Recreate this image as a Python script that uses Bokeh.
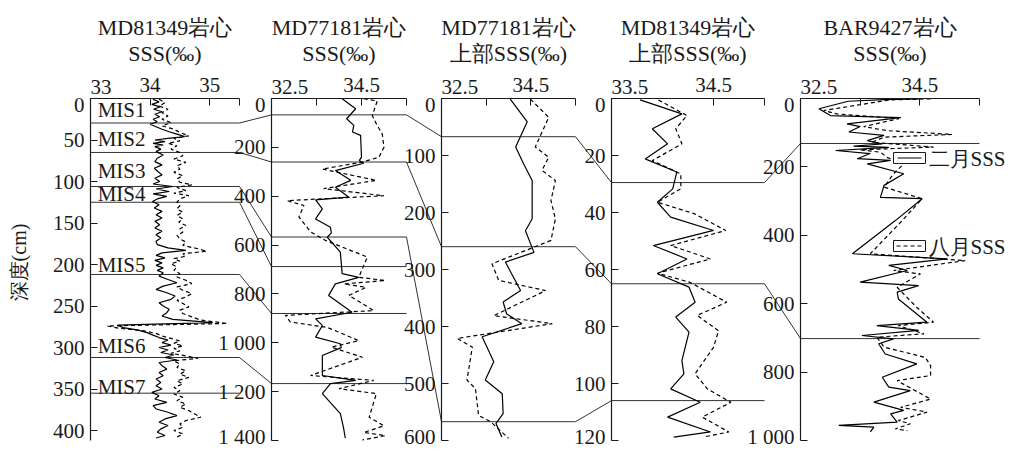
import math
from bokeh.plotting import figure
from bokeh.models import Range1d, LinearAxis, FixedTicker
from bokeh.core.properties import value
from bokeh.embed import file_html
from bokeh.resources import INLINE

# ------------------------------------------------------------------ data
title_line1 = ["MD81349岩心", "MD77181岩心", "MD77181岩心", "MD81349岩心", "BAR9427岩心"]
title_line2 = ["SSS(‰)", "SSS(‰)", "上部SSS(‰)", "上部SSS(‰)", "SSS(‰)"]
legend_labels = ["二月SSS", "八月SSS"]
depth_title = "深度(cm)"

# panel 1 : MD81349 (depth cm, SSS)
md81349_feb = [(1,34.05),(4,34.15),(7,34.03),(10,34.17),(13,34.06),(16,34.2),(19,34.08),(22,34.16),(25,34.05),(28,34.12),
    (31,34.0),(34,34.1),(37,34.2),(40,34.32),(43,34.45),(46,34.58),(48,34.3),(50,34.08),(52,34.25),(54,34.05),(56,34.22),
    (58,34.08),(61,34.18),(64,34.1),(68,34.22),(72,34.12),(76,34.08),(80,34.2),(84,34.07),(88,34.13),(92,34.2),(96,34.08),
    (100,34.16),(103,34.05),(106,34.38),(109,34.1),(112,34.32),(115,34.05),(118,34.28),(121,34.12),(124,34.04),(128,34.15),
    (132,34.07),(136,34.2),(140,34.1),(144,34.2),(148,34.08),(152,34.16),(156,34.08),(160,34.2),(164,34.1),(168,34.18),
    (172,34.1),(176,34.12),(180,34.3),(183,34.6),(186,34.2),(189,34.1),(192,34.25),(195,34.08),(198,34.2),(201,34.1),
    (204,34.22),(207,34.12),(210,34.22),(214,34.15),(218,34.3),(222,34.45),(226,34.22),(230,34.1),(234,34.28),(238,34.42),
    (242,34.35),(246,34.15),(250,34.22),(254,34.32),(258,34.28),(262,34.2),(266,34.38),(270,35.05),(273,33.45),(276,33.55),
    (279,33.8),(282,33.95),(285,34.05),(288,34.15),(291,34.3),(294,34.2),(297,34.35),(300,34.15),(303,34.3),(306,34.18),
    (309,34.4),(312,34.25),(315,34.45),(318,34.15),(322,34.2),(326,34.28),(330,34.15),(334,34.22),(338,34.1),(342,34.18),
    (346,34.1),(350,34.2),(354,34.03),(358,34.15),(362,34.08),(366,34.28),(370,34.05),(374,34.1),(378,34.3),(382,34.45),
    (386,34.25),(390,34.15),(394,34.3),(398,34.18),(402,34.12),(406,34.25),(409,34.1)]
md81349_aug = [(1,34.15),(5,34.25),(9,34.15),(13,34.3),(17,34.2),(21,34.3),(25,34.2),(29,34.35),(33,34.2),(37,34.4),
    (41,34.5),(45,34.65),(48,34.4),(51,34.5),(54,34.3),(57,34.45),(61,34.35),(65,34.5),(69,34.55),(73,34.4),(77,34.6),
    (81,34.45),(85,34.5),(89,34.4),(93,34.55),(97,34.45),(101,34.5),(104,34.7),(107,34.45),(111,34.6),(114,34.4),(117,34.65),
    (121,34.5),(125,34.45),(129,34.5),(133,34.45),(137,34.55),(141,34.45),(145,34.55),(149,34.48),(153,34.6),(157,34.5),
    (161,34.55),(165,34.45),(169,34.5),(173,34.6),(177,34.55),(181,34.8),(184,34.95),(187,34.55),(190,34.6),(193,34.4),
    (196,34.5),(199,34.35),(203,34.45),(207,34.4),(211,34.5),(215,34.45),(219,34.6),(223,34.7),(227,34.45),(231,34.55),
    (235,34.7),(239,34.6),(243,34.45),(247,34.55),(251,34.65),(255,34.5),(259,34.55),(263,34.7),(267,34.85),(271,35.3),
    (274,33.28),(277,33.5),(280,33.9),(283,34.1),(286,34.2),(289,34.35),(292,34.5),(295,34.4),(298,34.55),(301,34.4),
    (304,34.5),(307,34.35),(310,34.6),(313,34.8),(316,34.4),(320,34.5),(324,34.45),(328,34.6),(332,34.5),(336,34.65),
    (340,34.45),(344,34.55),(348,34.4),(352,34.5),(356,34.4),(360,34.55),(364,34.45),(368,34.6),(372,34.5),(376,34.65),
    (380,34.75),(384,34.85),(388,34.6),(392,34.5),(396,34.55),(400,34.4),(404,34.55),(408,34.45)]

# panel 2 : MD77181
md77181_feb = [(1,34.07),(42,34.37),(83,34.17),(110,34.33),(137,34.3),(151,34.48),(240,34.5),(254,34.45),(265,34.55),
    (295,33.92),(335,34.26),(363,33.92),(404,34.22),(415,33.48),(452,33.63),(493,33.48),(527,33.81),(550,33.83),(568,33.74),
    (629,34.03),(717,34.07),(732,34.44),(759,33.92),(806,33.77),(875,34.29),(902,33.48),(929,33.63),(977,33.48),(1004,34.03),
    (1020,34.05),(1052,33.63),(1134,33.63),(1154,34.37),(1167,33.81),(1208,33.63),(1249,33.83),(1290,34.03),(1347,34.1),
    (1390,34.14)]
md77181_aug = [(1,34.55),(10,34.85),(70,34.74),(104,34.83),(145,34.96),(199,35.0),(240,34.89),(260,34.52),(289,33.63),
    (335,34.83),(369,33.66),(398,35.0),(418,32.85),(438,33.22),(485,33.11),(546,33.37),(581,33.7),(649,34.63),(732,34.44),
    (745,35.03),(759,34.11),(773,34.6),(806,34.22),(868,34.77),(888,32.81),(915,32.92),(937,33.74),(991,34.44),(1018,33.83),
    (1059,34.52),(1134,33.37),(1154,34.77),(1188,34.0),(1208,34.83),(1305,34.67),(1340,35.0),(1367,34.55),(1380,35.03),
    (1398,34.52)]

# panel 3 : MD77181 upper part
md77181_up_feb = [(1,34.04),(41,34.42),(85,34.16),(115,34.34),(144,34.53),(211,34.53),(232,34.38),(270,34.57),(287,33.93),
    (337,34.27),(357,33.88),(378,33.96),(395,34.3),(418,33.41),(462,33.67),(494,33.48),(518,33.86),(553,33.88),(570,33.72),
    (594,33.85)]
md77181_up_aug = [(1,34.49),(33,34.9),(85,34.6),(103,34.9),(126,34.75),(144,35.05),(179,34.95),(211,35.05),(249,34.95),
    (290,33.63),(319,33.78),(337,34.83),(381,33.67),(395,34.98),(421,32.85),(436,33.19),(494,33.07),(509,33.26),(556,33.33),
    (567,33.6),(596,34.0)]

# panel 4 : MD81349 upper part
md81349_up_feb = [(0.5,33.78),(5.4,34.19),(10.6,33.9),(15.9,34.05),(21.2,33.83),(25.8,34.14),(31.7,34.1),(36.4,33.95),
    (41.6,34.08),(46.3,34.5),(51.6,33.91),(56.3,34.24),(61.5,33.95),(66.2,34.26),(71.5,34.32),(76.7,34.13),(82,34.26),
    (92,34.19),(96.6,34.21),(101.9,34.08),(106.6,34.37),(111.8,34.05),(117,34.47),(118.8,34.11)]
md81349_up_aug = [(0.5,33.96),(6,34.24),(10.6,34.13),(15.9,34.19),(21.8,33.9),(26.5,34.18),(31.7,34.18),(36.4,33.95),
    (40.4,34.31),(46.3,34.62),(51.6,34.08),(56.3,34.47),(61.3,33.95),(64.5,34.27),(71.5,34.63),(76.1,34.34),(81.5,34.55),
    (87.3,34.5),(96.6,34.32),(101.9,34.44),(106.6,34.67),(111.8,34.39),(117,34.65),(118.8,34.4)]

# panel 5 : BAR9427
bar9427_feb = [(1,34.5),(3,33.9),(8,33.3),(30,32.81),(50,33.0),(56,34.18),(74,33.28),(82,33.5),(98,33.31),(108,33.9),
    (123,33.62),(133,33.87),(139,33.39),(143,33.98),(152,33.09),(161,33.67),(176,33.45),(181,34.01),(191,33.62),(220,34.23),
    (254,33.9),(289,33.84),(293,34.54),(357,34.09),(454,33.37),(469,34.96),(488,33.98),(503,34.29),(537,33.5),(547,34.48),
    (566,34.12),(586,34.14),(654,34.62),(664,33.78),(678,34.48),(693,33.53),(703,34.06),(717,33.81),(747,33.92),(776,34.45),
    (815,33.87),(844,33.98),(854,34.34),(888,33.73),(912,34.23),(922,34.01),(946,34.12),(956,33.14),(961,33.73),(975,33.67)]
bar9427_aug = [(1,34.68),(4,34.0),(35,32.89),(45,33.11),(59,34.15),(82,33.56),(94,33.95),(105,35.04),(113,33.9),(128,33.7),
    (142,34.73),(150,33.5),(157,33.84),(172,33.95),(191,34.23),(220,34.06),(259,33.9),(293,34.54),(367,34.15),(454,33.67),
    (474,35.26),(503,34.06),(513,34.51),(552,34.12),(611,34.45),(654,34.73),(664,34.14),(688,34.57),(698,33.78),(727,33.9),
    (757,34.59),(781,34.68),(810,34.68),(825,34.12),(879,34.68),(903,34.18),(917,34.62),(942,34.14),(951,34.34),(966,34.09),
    (971,34.29)]

# stage boundaries (depth, cm) in each panel
bounds_md81349 = [29.5, 65, 106, 125, 212, 312, 355]
bounds_md77181 = [67, 260, 567, 688, 880, 1167]
bounds_md77181_up = [67, 260, 567]
bounds_md81349_up = [29.5, 65, 106]
bounds_bar9427 = [131.5, 702]
mis_names = ["MIS1", "MIS2", "MIS3", "MIS4", "MIS5", "MIS6", "MIS7"]
mis_depths = [14, 49, 87, 115, 200, 298, 348]

# tick values
top_major = [[34, 35], [34.5], [34.5], [34.5], [34.5]]
top_minor = [[33, 35.5], [32.5, 33.5, 35.5], [32.5, 33.5, 35.5], [33.5, 35.0], [32.5, 33.5, 35.5]]
top_first = ["33", "32.5", "32.5", "33.5", "32.5"]
left_ticks = [[0, 50, 100, 150, 200, 250, 300, 350, 400],
              [0, 200, 400, 600, 800, 1000, 1200, 1400],
              [0, 100, 200, 300, 400, 500, 600],
              [0, 20, 40, 60, 80, 100, 120],
              [0, 200, 400, 600, 800, 1000]]

# ------------------------------------------------------------------ layout
FONT = "Liberation Serif"
PX0, PX1, PY0, PY1 = 0, 1013, 0, 449
T, B = 98, 440
panels = [dict(L=90, R=239, a=33.0, b=35.5, d1=412),
          dict(L=271, R=406, a=32.5, b=35.5, d1=1400),
          dict(L=441, R=575, a=32.5, b=35.5, d1=600),
          dict(L=611, R=764, a=33.5, b=35.0, d1=120),
          dict(L=800, R=979, a=32.5, b=35.5, d1=1000)]
series = [(md81349_feb, md81349_aug), (md77181_feb, md77181_aug), (md77181_up_feb, md77181_up_aug),
          (md81349_up_feb, md81349_up_aug), (bar9427_feb, bar9427_aug)]
bounds = [bounds_md81349, bounds_md77181, bounds_md77181_up, bounds_md81349_up, bounds_bar9427]


def fmt(v):
    return f"{v:,}".replace(",", " ")


def x_range_for(pn):
    s = (pn["R"] - pn["L"]) / (pn["b"] - pn["a"])
    return Range1d(start=pn["a"] - (pn["L"] - PX0) / s, end=pn["b"] + (PX1 - pn["R"]) / s)


def y_range_for(pn):
    s = (B - T) / pn["d1"]
    return Range1d(start=pn["d1"] + (PY1 - B) / s, end=-(T - PY0) / s)


def page_y(depth, pn):
    return T + depth * (B - T) / pn["d1"]


p = figure(width=PX1 - PX0, height=PY1 - PY0, output_backend="svg", toolbar_location=None,
           x_range=Range1d(PX0, PX1), y_range=Range1d(PY1, PY0),
           x_axis_location=None, y_axis_location=None, min_border=0)
p.min_border_left = p.min_border_right = p.min_border_top = p.min_border_bottom = 0
p.outline_line_color = None
p.xgrid.visible = False
p.ygrid.visible = False
p.background_fill_color = "white"
p.border_fill_color = "white"

for k, pn in enumerate(panels, start=1):
    p.extra_x_ranges[f"x{k}"] = x_range_for(pn)
    p.extra_y_ranges[f"y{k}"] = y_range_for(pn)

INK = "#1a1a1a"


def style_axis(ax, standoff):
    ax.axis_line_color = INK
    ax.axis_line_width = 1.2
    ax.major_tick_line_color = INK
    ax.minor_tick_line_color = INK
    ax.major_tick_in = 7
    ax.major_tick_out = 0
    ax.minor_tick_in = 7
    ax.minor_tick_out = 0
    ax.major_label_text_font = FONT
    ax.major_label_text_font_size = "21px"
    ax.major_label_text_color = INK
    ax.major_label_standoff = standoff
    try:
        ax.major_label_background_fill_color = "white"
    except Exception:
        pass


for k, pn in enumerate(panels, start=1):
    xr, yr = f"x{k}", f"y{k}"
    feb, aug = series[k - 1]
    bd = bounds[k - 1]
    p.segment(x0=[pn["a"]] * len(bd), x1=[pn["b"]] * len(bd), y0=bd, y1=bd,
              x_range_name=xr, y_range_name=yr, line_color="#333333", line_width=1)
    p.line(x=[v for _, v in feb], y=[d for d, _ in feb], x_range_name=xr, y_range_name=yr,
           line_color="black", line_width=1.2)
    p.line(x=[v for _, v in aug], y=[d for d, _ in aug], x_range_name=xr, y_range_name=yr,
           line_color="black", line_width=1.2, line_dash="4 3")

# connectors between neighbouring panels (same horizon in both cores)
links = [(0, bounds_md81349[:6], bounds_md77181),
         (1, bounds_md77181[:3], bounds_md77181_up),
         (2, bounds_md77181_up, bounds_md81349_up),
         (3, bounds_md81349_up[:2], bounds_bar9427)]
for i, src, dst in links:
    a, b = panels[i], panels[i + 1]
    p.segment(x0=[a["R"]] * len(src), x1=[b["L"]] * len(src),
              y0=[page_y(d, a) for d in src], y1=[page_y(d, b) for d in dst],
              line_color="#333333", line_width=1)

# axes
for k, pn in enumerate(panels, start=1):
    xr, yr = f"x{k}", f"y{k}"
    ax = LinearAxis(x_range_name=xr, y_range_name=yr, fixed_location=0, bounds=(pn["a"], pn["b"]),
                    ticker=FixedTicker(ticks=top_major[k - 1], minor_ticks=top_minor[k - 1]))
    style_axis(ax, 7)
    p.add_layout(ax, "above")

    ticks = left_ticks[k - 1]
    overrides = {t: fmt(t) for t in ticks}
    overrides[0] = ""
    edge_vals, edge_offs = [0], [6]
    if ticks[-1] == pn["d1"]:
        overrides[ticks[-1]] = ""
        edge_vals.append(ticks[-1])
        edge_offs.append(-4)
    ay = LinearAxis(x_range_name=xr, y_range_name=yr, fixed_location=pn["a"], bounds=(0, pn["d1"]),
                    ticker=FixedTicker(ticks=ticks, minor_ticks=[]), major_label_overrides=overrides)
    style_axis(ay, 6)
    p.add_layout(ay, "left")
    # end labels nudged inside the axis span (as in the original)
    p.text(x=[pn["a"]] * len(edge_vals), y=edge_vals, text=[fmt(v) for v in edge_vals],
           x_range_name=xr, y_range_name=yr, x_offset=-6, y_offset=edge_offs,
           text_align="right", text_baseline="middle", text_font=value(FONT),
           text_font_size="21px", text_color=INK)
    # first top label, left-aligned on the axis start
    p.text(x=[pn["a"]], y=[T - 12], text=[top_first[k - 1]], x_range_name=xr,
           text_align="left", text_baseline="alphabetic", text_font=value(FONT),
           text_font_size="21px", text_color=INK)
    mid = (pn["a"] + pn["b"]) / 2
    p.text(x=[mid], y=[27], text=[title_line1[k - 1]], x_range_name=xr,
           text_align="center", text_baseline="alphabetic", text_font=value(FONT),
           text_font_size="22px", text_color=INK)
    p.text(x=[mid], y=[53], text=[title_line2[k - 1]], x_range_name=xr,
           text_align="center", text_baseline="alphabetic", text_font=value(FONT),
           text_font_size="22px", text_color=INK)

# MIS labels in panel 1
p.text(x=[33.12] * len(mis_names), y=mis_depths, text=mis_names, x_range_name="x1", y_range_name="y1",
       text_align="left", text_baseline="middle", text_font=value(FONT), text_font_size="21px", text_color=INK)

# depth axis title
p.text(x=[18], y=[262], text=[depth_title], angle=math.pi / 2, text_align="center", text_baseline="middle",
       text_font=value(FONT), text_font_size="20px", text_color=INK)

# legend (boxed line samples)
p.quad(left=[893, 893], right=[925, 925], top=[152, 240], bottom=[163, 251],
       fill_color="white", line_color=INK, line_width=1)
p.segment(x0=[897], x1=[921], y0=[157.5], y1=[157.5], line_color="black", line_width=1.2)
p.segment(x0=[896], x1=[922], y0=[245.5], y1=[245.5], line_color="black", line_width=1.2, line_dash="4 3")
p.text(x=[928, 928], y=[158, 246], text=legend_labels, text_align="left", text_baseline="middle",
       text_font=value(FONT), text_font_size="21px", text_color=INK)

open("out.html", "w").write(file_html(p, INLINE))
